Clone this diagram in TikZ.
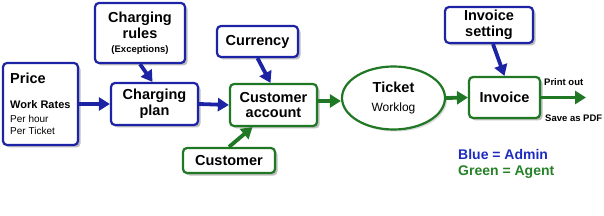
\documentclass[tikz,border=0pt]{standalone}
\usepackage{fontspec}
\setmainfont{Liberation Sans}
\usetikzlibrary{arrows.meta,shapes.geometric,shadows}
\definecolor{admblue}{RGB}{28,36,165}
\definecolor{agtgreen}{RGB}{32,120,36}
\definecolor{legblue}{RGB}{30,44,190}
\definecolor{leggreen}{RGB}{38,130,40}
\tikzset{
  box/.style={draw, rounded corners=4pt, line width=2.2pt, fill=white, inner sep=1pt,
    align=center, font=\fontsize{14.5}{15.5}\selectfont\bfseries,
    drop shadow={shadow xshift=2.5pt, shadow yshift=-2.5pt, fill=black, opacity=0.25}},
  bluebox/.style={box, draw=admblue},
  greenbox/.style={box, draw=agtgreen},
  barrow/.style={draw=admblue, line width=3.8pt, -{Triangle[length=11pt,width=13pt]}, admblue},
  garrow/.style={draw=agtgreen, line width=3.8pt, -{Triangle[length=11pt,width=13pt]}, agtgreen},
  txt/.style={inner sep=0pt, anchor=west},
}
\begin{document}
\begin{tikzpicture}[x=1pt,y=-1pt]
\useasboundingbox (0,0) rectangle (604,216);
% boxes
\node[bluebox, minimum width=75pt, minimum height=82pt] (price) at (40.5,104) {};
\node[txt, font=\fontsize{14.5}{15}\selectfont\bfseries] (ptitle) at (10,78) {Price};
\node[txt, font=\fontsize{11}{12}\selectfont\bfseries] (prates) at (10,105) {Work Rates};
\node[txt, font=\fontsize{10}{11}\selectfont] (phour) at (10,119) {Per hour};
\node[txt, font=\fontsize{10}{11}\selectfont] (pticket) at (10,131) {Per Ticket};

\node[bluebox, minimum width=90pt, minimum height=60pt,
  font=\fontsize{14.5}{16}\selectfont\bfseries] (rules) at (140,33)
  {Charging\\rules\\[-2pt]{\fontsize{9.5}{11}\selectfont(Exceptions)}};
\node[bluebox, minimum width=87pt, minimum height=42pt] (plan) at (154.5,104) {Charging\\plan};
\node[bluebox, minimum width=81pt, minimum height=31pt] (currency) at (257.5,41.5) {Currency};
\node[greenbox, minimum width=87pt, minimum height=42pt] (account) at (273.5,105) {Customer\\account};
\node[greenbox, minimum width=92pt, minimum height=25pt] (customer) at (229,160.5) {Customer};
\node[ellipse, draw=agtgreen, line width=2.2pt, fill=white, minimum width=103pt, minimum height=63pt,
  inner sep=0pt, align=center,
  drop shadow={shadow xshift=2pt, shadow yshift=-2pt, fill=black, opacity=0.15}] (ticket) at (393.5,98)
  {{\fontsize{14.5}{15}\selectfont\bfseries Ticket}\\[7pt]{\fontsize{12}{13}\selectfont Worklog}};
\node[bluebox, minimum width=88pt, minimum height=36pt] (setting) at (489,25) {Invoice\\setting};
\node[greenbox, minimum width=71pt, minimum height=41pt] (invoice) at (504.5,97.5) {Invoice};
\coordinate (out) at (586,97.5);

% arrows
\draw[barrow] (price.east) -- (plan.west);
\draw[barrow] (rules.south) -- ([xshift=-2pt]plan.north);
\draw[barrow] (plan.east) -- (account.west);
\draw[barrow] (currency.south) -- ([xshift=-3pt]account.north);
\draw[garrow] (customer.north) -- ([xshift=-21pt]account.south);
\draw[garrow] ([yshift=4pt]account.east) -- ([yshift=-3pt]ticket.west);
\draw[garrow] (ticket.east) -- (invoice.west);
\draw[barrow] ([xshift=4pt]setting.south) -- (invoice.north);
\draw[garrow] (invoice.east) -- (out);

% output labels
\node[txt, font=\fontsize{9.5}{10}\selectfont\bfseries] (print) at (544,82) {Print out};
\node[txt, font=\fontsize{9.5}{10}\selectfont\bfseries] (pdf) at (545,118) {Save as PDF};

% legend
\node[txt, text=legblue, font=\fontsize{14}{15}\selectfont\bfseries] (legb) at (458,154) {Blue = Admin};
\node[txt, text=leggreen, font=\fontsize{14}{15}\selectfont\bfseries] (legg) at (458,172) {Green = Agent};
\end{tikzpicture}
\end{document}
